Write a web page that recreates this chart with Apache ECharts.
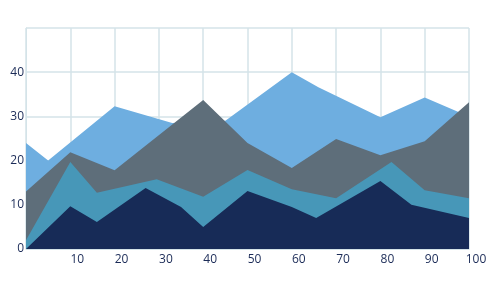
<!DOCTYPE html>
<html>
<head>
<meta charset="utf-8">
<script src="https://cdn.jsdelivr.net/npm/echarts@6/dist/echarts.min.js"></script>
<style>
  html, body { margin: 0; padding: 0; background: #fff; }
  #chart { width: 500px; height: 281px; }
</style>
</head>
<body>
<div id="chart"></div>
<script>
// x ticks / y ticks
var xTicks = [0, 10, 20, 30, 40, 50, 60, 70, 80, 90, 100]
var yTicks = [0, 10, 20, 30, 40, 50]

// series values as [x, y]
var lightBlue = [[0, 24], [5, 20], [20, 32.3], [33, 28.5], [45, 29], [60, 40], [66, 36.6], [80, 29.8], [90, 34.3], [100, 30]]
var slateGray = [[0, 13], [10, 21.9], [20, 17.8], [40, 33.7], [50, 24], [60, 18.3], [70, 24.9], [80, 21.2], [90, 24.4], [100, 33.2]]
var teal = [[0, 2], [10, 19.7], [16, 12.7], [29.5, 15.8], [40, 11.8], [50, 17.9], [60, 13.5], [70, 11.5], [82.5, 19.7], [90, 13.3], [100, 11.5]]
var navy = [[0, 0], [10, 9.7], [16, 6.1], [27, 13.8], [35, 9.5], [40, 5], [50, 13.1], [60, 9.5], [65.5, 7], [80, 15.4], [87, 10], [100, 7]]

var labelColor = '#1b2b57'
var gridColor = '#d4e3e8'

function areaSeries(name, data, color) {
  return {
    name: name,
    type: 'line',
    data: data,
    symbol: 'none',
    silent: true,
    lineStyle: { width: 0 },
    areaStyle: { color: color, opacity: 1 },
    itemStyle: { color: color }
  }
}

var myChart = echarts.init(document.getElementById('chart'))
var option = {
  animation: false,
  grid: { left: 26, right: 31, top: 28, bottom: 32 },
  xAxis: {
    type: 'value',
    min: xTicks[0],
    max: xTicks[xTicks.length - 1],
    interval: 10,
    axisLine: { show: true, lineStyle: { color: gridColor } },
    axisTick: { show: false },
    splitLine: { show: true, lineStyle: { color: gridColor, width: 1.5 } },
    axisLabel: {
      margin: 5,
      color: labelColor,
      fontFamily: 'Open Sans',
      fontSize: 12,
      padding: [0, 0, 0, 14],
      formatter: function (v) { return v === 0 ? '' : String(v) }
    }
  },
  yAxis: {
    type: 'value',
    min: yTicks[0],
    max: yTicks[yTicks.length - 1],
    interval: 10,
    axisLine: { show: true, lineStyle: { color: gridColor } },
    axisTick: { show: false },
    splitLine: { show: true, lineStyle: { color: gridColor, width: 1.5 } },
    axisLabel: {
      margin: 2,
      color: labelColor,
      fontFamily: 'Open Sans',
      fontSize: 12,
      padding: [0, 0, 5, 0],
      formatter: function (v) { return v === 50 ? '' : String(v) }
    }
  },
  series: [
    areaSeries('light', lightBlue, '#6eaee0'),
    areaSeries('gray', slateGray, '#5e6e7a'),
    areaSeries('teal', teal, '#4797b8'),
    areaSeries('navy', navy, '#172b57')
  ]
}
myChart.setOption(option)
</script>
</body>
</html>
